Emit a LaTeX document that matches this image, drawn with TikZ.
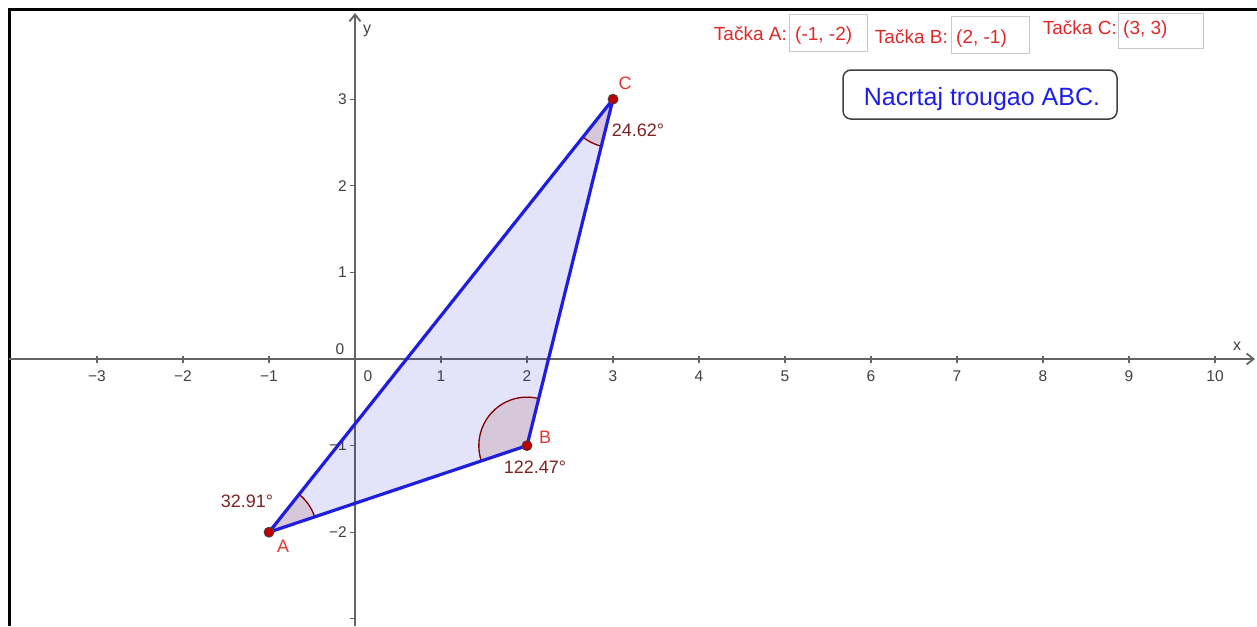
\documentclass[tikz,border=0pt]{standalone}
\usepackage{fontspec}
\setmainfont{Liberation Sans}
\usetikzlibrary{arrows.meta}
\definecolor{axiscol}{RGB}{100,100,100}
\definecolor{ticklab}{RGB}{65,65,65}
\definecolor{polyblue}{RGB}{30,30,220}
\definecolor{ptred}{RGB}{190,0,0}
\definecolor{lblred}{RGB}{232,52,52}
\definecolor{anglab}{RGB}{125,35,35}
\definecolor{arcred}{RGB}{127,0,0}
\definecolor{boxgray}{RGB}{200,200,200}
\definecolor{ctlred}{RGB}{225,40,40}
\definecolor{btnblue}{RGB}{30,30,230}
\begin{document}
\begin{tikzpicture}[x=1pt,y=-1pt,
  axisline/.style={draw=axiscol,line width=1.8pt},
  tickmark/.style={draw=axiscol,line width=1.2pt},
  ticklabel/.style={text=ticklab,font=\fontsize{15.5}{18}\selectfont,inner sep=0pt},
  axisname/.style={text=ticklab,font=\fontsize{16}{18}\selectfont,inner sep=0pt},
  edgeline/.style={draw=polyblue,line width=3.2pt,line join=round},
  polyfill/.style={fill=polyblue,fill opacity=0.12},
  secfill/.style={fill=arcred,fill opacity=0.12},
  arcline/.style={draw=arcred,line width=1.3pt},
  ptdot/.style={circle,fill=ptred,draw=black!75,line width=0.8pt,minimum size=10pt,inner sep=0pt},
  ptlabel/.style={text=lblred,font=\fontsize{18}{20}\selectfont,inner sep=0pt},
  anglabel/.style={text=anglab,font=\fontsize{18}{20}\selectfont,inner sep=0pt},
  ctllabel/.style={text=ctlred,font=\fontsize{19}{22}\selectfont,inner sep=0pt},
  inbox/.style={draw=boxgray,line width=1pt,inner sep=0pt,anchor=north west},
  btnbox/.style={draw=black!75,line width=1.5pt,rounded corners=8pt,minimum width=274pt,minimum height=49pt,inner sep=0pt},
  btntext/.style={text=btnblue,font=\fontsize{25}{28}\selectfont,inner sep=0pt}
]
\useasboundingbox (0,0) rectangle (1257,626);
\clip (0,0) rectangle (1257,626);
\fill[white] (0,0) rectangle (1257,626);

% frame
\coordinate (fbl) at (9,626);
\coordinate (ftl) at (9,10);
\coordinate (ftr) at (1257,10);
\draw[black,line width=3pt] (fbl) -- (ftl) -- (ftr);

% axes
\coordinate (xs) at (9,359);
\coordinate (xe) at (1255,359);
\coordinate (ys) at (355,626);
\coordinate (ye) at (355,13);
\draw[axisline,-{Straight Barb[length=7pt,width=11pt]}] (xs) -- (xe);
\draw[axisline,-{Straight Barb[length=7pt,width=11pt]}] (ys) -- (ye);

\foreach \k in {-3,-2,-1,1,2,3,4,5,6,7,8,9,10}{
  \pgfmathsetmacro\xx{355+86*\k}
  \pgfmathtruncatemacro\idx{\k+3}
  \draw[tickmark] (\xx,356) -- (\xx,363);
  \node[ticklabel] (xl\idx) at (\xx,376) {\ifnum\k<0 −\the\numexpr-\k\relax\else\k\fi};
}
\foreach \k in {-2,-1,1,2,3}{
  \pgfmathsetmacro\yy{359-86.6*\k}
  \pgfmathtruncatemacro\idx{\k+3}
  \draw[tickmark] (350,\yy) -- (356,\yy);
  \node[ticklabel,anchor=east] (yl\idx) at (347,\yy) {\ifnum\k<0 −\the\numexpr-\k\relax\else\k\fi};
}
\draw[tickmark] (350,618.8) -- (356,618.8);
\node[ticklabel] (x0) at (368,376) {0};
\node[ticklabel] (y0) at (340,349) {0};
\node[axisname] (xname) at (1237,346) {x};
\node[axisname] (yname) at (367,31) {y};

% triangle
\begin{scope}[shift={(355,359)},x=86pt,y=86.6pt]
  \coordinate (A) at (-1,-2);
  \coordinate (B) at (2,-1);
  \coordinate (C) at (3,3);
  \fill[polyfill] (A) -- (B) -- (C) -- cycle;
  % angle sectors
  \fill[secfill] (A) -- ++(18.43:0.56) arc[start angle=18.43,end angle=51.34,radius=0.56] -- cycle;
  \fill[secfill] (B) -- ++(75.96:0.56) arc[start angle=75.96,end angle=198.43,radius=0.56] -- cycle;
  \fill[secfill] (C) -- ++(231.34:0.56) arc[start angle=231.34,end angle=255.96,radius=0.56] -- cycle;
  \draw[arcline] (A) ++(18.43:0.56) arc[start angle=18.43,end angle=51.34,radius=0.56];
  \draw[arcline] (B) ++(75.96:0.56) arc[start angle=75.96,end angle=198.43,radius=0.56];
  \draw[arcline] (C) ++(231.34:0.56) arc[start angle=231.34,end angle=255.96,radius=0.56];
  \draw[edgeline] (A) -- (B) -- (C) -- cycle;
  \node[ptdot] (pA) at (A) {};
  \node[ptdot] (pB) at (B) {};
  \node[ptdot] (pC) at (C) {};
\end{scope}

% point and angle labels
\node[ptlabel] (lA) at (283,546) {A};
\node[ptlabel] (lB) at (545,437) {B};
\node[ptlabel] (lC) at (625,83) {C};
\node[anglabel] (aA) at (247,501) {32.91°};
\node[anglabel] (aB) at (535,467) {122.47°};
\node[anglabel] (aC) at (638,130) {24.62°};

% input controls
\node[ctllabel,anchor=base east] (tA) at (787,41) {Tačka A:};
\node[inbox,minimum width=78pt,minimum height=37pt] (bA) at (789,14) {};
\node[ctllabel,anchor=base west] (vA) at (795,41) {(-1, -2)};

\node[ctllabel,anchor=base east] (tB) at (948,44) {Tačka B:};
\node[inbox,minimum width=78pt,minimum height=37pt] (bB) at (951,16) {};
\node[ctllabel,anchor=base west] (vB) at (956,44) {(2, -1)};

\node[ctllabel,anchor=base east] (tC) at (1117,35) {Tačka C:};
\node[inbox,minimum width=85pt,minimum height=35pt] (bC) at (1118,13) {};
\node[ctllabel,anchor=base west] (vC) at (1123,35) {(3, 3)};

% button
\node[btnbox] (btn) at (980,94.5) {};
\node[btntext,anchor=base] (btnt) at (982,105) {Nacrtaj trougao ABC.};
\end{tikzpicture}
\end{document}
